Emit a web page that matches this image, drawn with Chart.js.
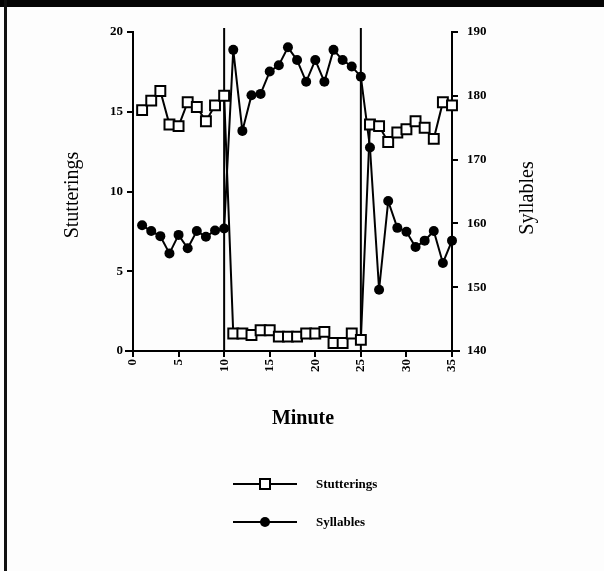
<!DOCTYPE html>
<html>
<head>
<meta charset="utf-8">
<title>Stutterings and Syllables by Minute</title>
<script src="https://cdn.jsdelivr.net/npm/chart.js@4/dist/chart.umd.min.js"></script>
<style>
  html, body { margin: 0; padding: 0; background: #fdfdfd; } /* page background */
  #wrap { position: relative; width: 604px; height: 571px; } /* fixed size box */
  #topBand { position: absolute; left: 0; top: 0; width: 604px; height: 7px; background: #050505; } /* scanned black edge */
  #leftLine { position: absolute; left: 4px; top: 0; width: 3px; height: 571px; background: #111; } /* scanned left edge */
</style>
</head>
<body>
<div id="wrap">
  <canvas id="chart" width="604" height="571"></canvas>
  <div id="topBand"></div>
  <div id="leftLine"></div>
</div>
<script>
// Data
const minutes = [1, 2, 3, 4, 5, 6, 7, 8, 9, 10, 11, 12, 13, 14, 15, 16, 17, 18, 19, 20, 21, 22, 23, 24, 25, 26, 27, 28, 29, 30, 31, 32, 33, 34, 35];
const stutterings = [15.1, 15.7, 16.3, 14.2, 14.1, 15.6, 15.3, 14.4, 15.4, 16.0, // baseline
  1.1, 1.1, 1.0, 1.3, 1.3, 0.9, 0.9, 0.9, 1.1, 1.1, 1.2, 0.5, 0.5, 1.1, 0.7, // treatment
  14.2, 14.1, 13.1, 13.7, 13.9, 14.4, 14.0, 13.3, 15.6, 15.4]; // return to baseline
const syllables = [159.7, 158.8, 158.0, 155.3, 158.2, 156.1, 158.8, 157.9, 158.9, 159.2,
  187.2, 174.5, 180.1, 180.3, 183.8, 184.8, 187.6, 185.6, 182.2, 185.6, 182.2, 187.2, 185.6, 184.6, 183.0,
  171.9, 149.6, 163.5, 159.3, 158.7, 156.3, 157.3, 158.8, 153.8, 157.3];
const phaseChanges = [10, 25]; // minutes where vertical phase lines are drawn
const stutterTicks = [0, 5, 10, 15, 20];
const syllableTicks = [140, 150, 160, 170, 180, 190];
const minuteTicks = [0, 5, 10, 15, 20, 25, 30, 35];
const seriesNames = ['Stutterings', 'Syllables'];

const serif = '"Liberation Serif", "Times New Roman", serif';
const tickFont = { family: serif, size: 13, weight: 'bold' }; // bold tick numbers

// Build points for a series
const toPoints = (values) => minutes.map((m, i) => ({ x: m, y: values[i] }));

// Draws the phase lines, axis titles and the legend
const extrasPlugin = {
  id: 'extras',
  beforeDatasetsDraw(chart) {
    const { ctx, chartArea, scales } = chart;
    ctx.save();
    ctx.strokeStyle = '#000';
    ctx.lineWidth = 2;
    phaseChanges.forEach(m => { // vertical phase lines
      const px = scales.x.getPixelForValue(m);
      ctx.beginPath();
      ctx.moveTo(px, chartArea.top - 4);
      ctx.lineTo(px, chartArea.bottom);
      ctx.stroke();
    });
    // x axis line runs a little past both ends
    ctx.beginPath();
    ctx.moveTo(chartArea.left - 8, chartArea.bottom);
    ctx.lineTo(chartArea.right + 8, chartArea.bottom);
    ctx.stroke();
    ctx.restore();
  },
  afterDraw(chart) {
    const { ctx } = chart;
    ctx.save();
    ctx.fillStyle = '#000';
    ctx.textAlign = 'center';
    ctx.textBaseline = 'middle';

    // left axis title, reads bottom to top
    ctx.font = '20px ' + serif;
    ctx.save();
    ctx.translate(73, 195);
    ctx.rotate(-Math.PI / 2);
    ctx.fillText(seriesNames[0], 0, 0);
    ctx.restore();

    // right axis title, also reads bottom to top
    ctx.save();
    ctx.translate(528, 198);
    ctx.rotate(-Math.PI / 2);
    ctx.fillText(seriesNames[1], 0, 0);
    ctx.restore();

    // x axis title
    ctx.font = 'bold 20px ' + serif;
    ctx.fillText('Minute', 303, 419);

    // legend
    const rows = [
      { y: 484, style: 'rect' },
      { y: 522, style: 'circle' },
    ];
    rows.forEach((row, i) => {
      ctx.strokeStyle = '#000';
      ctx.lineWidth = 2;
      ctx.beginPath();
      ctx.moveTo(233, row.y);
      ctx.lineTo(297, row.y);
      ctx.stroke();
      if (row.style === 'rect') { // open square marker
        ctx.fillStyle = '#fff';
        ctx.fillRect(260, row.y - 5, 10, 10);
        ctx.strokeRect(260, row.y - 5, 10, 10);
      } else { // filled dot marker
        ctx.fillStyle = '#000';
        ctx.beginPath();
        ctx.arc(265, row.y, 5, 0, Math.PI * 2);
        ctx.fill();
      }
      ctx.fillStyle = '#000';
      ctx.font = 'bold 13px ' + serif;
      ctx.textAlign = 'left';
      ctx.fillText(seriesNames[i], 316, row.y + 1);
    });
    ctx.restore();
  }
};

const axisBase = {
  border: { display: true, color: '#000', width: 2 },
  grid: { drawOnChartArea: false, drawTicks: true, tickLength: 6, color: '#000', lineWidth: 2 },
  title: { display: false },
};

new Chart(document.getElementById('chart'), {
  type: 'line',
  data: {
    datasets: [
      {
        label: seriesNames[0],
        data: toPoints(stutterings),
        yAxisID: 'y',
        clip: false,
        borderColor: '#000',
        borderWidth: 2,
        backgroundColor: '#fff',
        pointStyle: 'rect',
        pointRadius: 7,
        pointBorderWidth: 2,
        pointBorderColor: '#000',
        pointBackgroundColor: '#fff',
        tension: 0,
      },
      {
        label: seriesNames[1],
        data: toPoints(syllables),
        yAxisID: 'y1',
        clip: false,
        borderColor: '#000',
        borderWidth: 2,
        backgroundColor: '#000',
        pointStyle: 'circle',
        pointRadius: 5,
        pointBorderWidth: 0,
        pointBackgroundColor: '#000',
        tension: 0,
      },
    ],
  },
  options: {
    responsive: false,
    animation: false,
    devicePixelRatio: 1,
    layout: { padding: { top: 32, left: 0, right: 0, bottom: 0 } },
    plugins: { legend: { display: false }, tooltip: { enabled: false } },
    scales: {
      x: {
        ...axisBase,
        type: 'linear',
        min: 0,
        max: 35,
        afterBuildTicks: (scale) => { scale.ticks = minuteTicks.map(v => ({ value: v })); },
        afterFit: (scale) => { scale.height = 220; },
        ticks: { color: '#000', font: tickFont, minRotation: 90, maxRotation: 90, padding: 2 },
      },
      y: {
        ...axisBase,
        position: 'left',
        min: 0,
        max: 20,
        afterBuildTicks: (scale) => { scale.ticks = stutterTicks.map(v => ({ value: v })); },
        afterFit: (scale) => { scale.width = 133; },
        ticks: { color: '#000', font: tickFont, padding: 4 },
      },
      y1: {
        ...axisBase,
        position: 'right',
        min: 140,
        max: 190,
        afterBuildTicks: (scale) => { scale.ticks = syllableTicks.map(v => ({ value: v })); },
        afterFit: (scale) => { scale.width = 152; },
        ticks: { color: '#000', font: tickFont, padding: 9 },
      },
    },
  },
  plugins: [extrasPlugin],
});
</script>
</body>
</html>
